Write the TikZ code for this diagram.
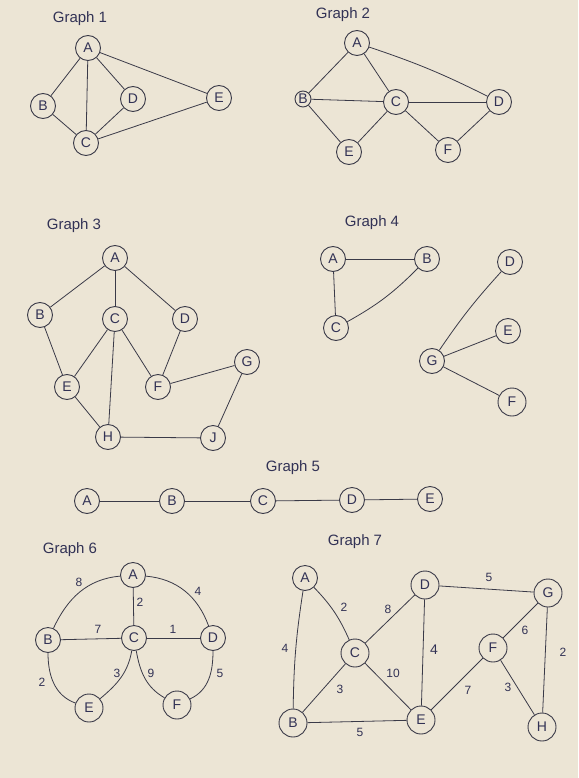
\documentclass[tikz,border=0pt]{standalone}
\usepackage{fontspec}
\setmainfont{Liberation Sans}
\definecolor{paper}{RGB}{236,229,213}
\definecolor{ink}{RGB}{58,58,72}
\definecolor{penblue}{RGB}{50,50,85}
\tikzset{
  vert/.style={circle,draw=ink,line width=0.9pt,minimum size=25pt,inner sep=0pt,text=penblue,font=\fontsize{14}{14}\selectfont},
  bigvert/.style={vert,minimum size=28pt},
  smallvert/.style={vert,minimum size=16pt},
  edge/.style={draw=ink,line width=0.8pt},
  ttl/.style={text=penblue,font=\fontsize{15}{15}\selectfont},
  wt/.style={text=penblue,font=\fontsize{12}{12}\selectfont,inner sep=1pt}
}
\begin{document}
\begin{tikzpicture}[x=1pt,y=-1pt]
\fill[paper] (0,0) rectangle (578,778);
\useasboundingbox (0,0) rectangle (578,778);

% ---------- Graph 1 ----------
\node[ttl] (t1) at (80,19) {Graph 1};
\node[vert] (g1A) at (88,48) {A};
\node[vert] (g1B) at (43,106) {B};
\node[vert] (g1C) at (86,143) {C};
\node[vert] (g1D) at (133,99) {D};
\node[vert] (g1E) at (219,98) {E};
\draw[edge] (g1A) -- (g1B);
\draw[edge] (g1A) -- (g1C);
\draw[edge] (g1A) -- (g1D);
\draw[edge] (g1A) -- (g1E);
\draw[edge] (g1B) -- (g1C);
\draw[edge] (g1C) -- (g1D);
\draw[edge] (g1C) -- (g1E);

% ---------- Graph 2 ----------
\node[ttl] (t2) at (343,15) {Graph 2};
\node[vert] (g2A) at (357,43) {A};
\node[smallvert] (g2B) at (303,99) {B};
\node[vert] (g2C) at (396,102) {C};
\node[vert] (g2D) at (499,102) {D};
\node[vert] (g2E) at (349,152) {E};
\node[vert] (g2F) at (448,150) {F};
\draw[edge] (g2A) -- (g2B);
\draw[edge] (g2A) -- (g2C);
\draw[edge] (g2A) to[bend left=4] (g2D);
\draw[edge] (g2B) -- (g2C);
\draw[edge] (g2C) -- (g2D);
\draw[edge] (g2B) -- (g2E);
\draw[edge] (g2E) -- (g2C);
\draw[edge] (g2C) -- (g2F);
\draw[edge] (g2F) -- (g2D);

% ---------- Graph 3 ----------
\node[ttl] (t3) at (74,226) {Graph 3};
\node[vert] (g3A) at (115,258) {A};
\node[vert] (g3B) at (40,315) {B};
\node[vert] (g3C) at (115,319) {C};
\node[vert] (g3D) at (185,319) {D};
\node[vert] (g3E) at (67,387) {E};
\node[vert] (g3F) at (158,387) {F};
\node[vert] (g3G) at (247,362) {G};
\node[vert] (g3H) at (108,437) {H};
\node[vert] (g3J) at (213,438) {J};
\draw[edge] (g3A) -- (g3B);
\draw[edge] (g3A) -- (g3C);
\draw[edge] (g3A) -- (g3D);
\draw[edge] (g3B) -- (g3E);
\draw[edge] (g3C) -- (g3E);
\draw[edge] (g3C) -- (g3H);
\draw[edge] (g3C) -- (g3F);
\draw[edge] (g3D) -- (g3F);
\draw[edge] (g3F) -- (g3G);
\draw[edge] (g3G) -- (g3J);
\draw[edge] (g3E) -- (g3H);
\draw[edge] (g3H) -- (g3J);

% ---------- Graph 4 ----------
\node[ttl] (t4) at (372,223) {Graph 4};
\node[vert] (g4A) at (333,259) {A};
\node[vert] (g4B) at (427,259) {B};
\node[vert] (g4C) at (336,328) {C};
\node[vert] (g4D) at (510,262) {D};
\node[vert] (g4E) at (508,331) {E};
\node[vert] (g4G) at (432,361) {G};
\node[bigvert] (g4F) at (512,402) {F};
\draw[edge] (g4A) -- (g4B);
\draw[edge] (g4A) -- (g4C);
\draw[edge] (g4B) to[bend left=8] (g4C);
\draw[edge] (g4D) to[bend right=4] (g4G);
\draw[edge] (g4E) -- (g4G);
\draw[edge] (g4G) -- (g4F);

% ---------- Graph 5 ----------
\node[ttl] (t5) at (293,468) {Graph 5};
\node[vert] (g5A) at (87,501) {A};
\node[vert] (g5B) at (172,501) {B};
\node[vert] (g5C) at (263,501) {C};
\node[vert] (g5D) at (352,500) {D};
\node[vert] (g5E) at (430,499) {E};
\draw[edge] (g5A) -- (g5B);
\draw[edge] (g5B) -- (g5C);
\draw[edge] (g5C) -- (g5D);
\draw[edge] (g5D) -- (g5E);

% ---------- Graph 6 ----------
\node[ttl] (t6) at (70,550) {Graph 6};
\node[vert] (g6A) at (133,575) {A};
\node[vert] (g6B) at (48,640) {B};
\node[vert] (g6C) at (134,638) {C};
\node[vert] (g6D) at (213,638) {D};
\node[bigvert] (g6E) at (89,708) {E};
\node[bigvert] (g6F) at (177,705) {F};
\draw[edge] (g6A) to[out=185,in=65] (g6B);
\draw[edge] (g6A) to[out=-5,in=110] (g6D);
\draw[edge] (g6A) -- (g6C);
\draw[edge] (g6B) -- (g6C);
\draw[edge] (g6C) -- (g6D);
\draw[edge] (g6B) to[out=-90,in=160] (g6E);
\draw[edge] (g6C) to[out=-100,in=40] (g6E);
\draw[edge] (g6C) to[out=-80,in=150] (g6F);
\draw[edge] (g6D) to[out=-90,in=25] (g6F);
\node[wt] (w6ab) at (79,582) {8};
\node[wt] (w6ad) at (198,591) {4};
\node[wt] (w6ac) at (140,602) {2};
\node[wt] (w6bc) at (98,629) {7};
\node[wt] (w6cd) at (173,629) {1};
\node[wt] (w6be) at (42,682) {2};
\node[wt] (w6ce) at (117,673) {3};
\node[wt] (w6cf) at (151,673) {9};
\node[wt] (w6df) at (220,673) {5};

% ---------- Graph 7 ----------
\node[ttl] (t7) at (355,542) {Graph 7};
\node[vert] (g7A) at (305,578) {A};
\node[bigvert] (g7D) at (425,585) {D};
\node[bigvert] (g7G) at (548,593) {G};
\node[bigvert] (g7C) at (355,653) {C};
\node[bigvert] (g7F) at (493,648) {F};
\node[bigvert] (g7B) at (293,723) {B};
\node[bigvert] (g7E) at (421,720) {E};
\node[bigvert] (g7H) at (542,727) {H};
\draw[edge] (g7A) to[bend left=10] (g7C);
\draw[edge] (g7A) to[bend right=4] (g7B);
\draw[edge] (g7C) -- (g7D);
\draw[edge] (g7C) -- (g7B);
\draw[edge] (g7C) -- (g7E);
\draw[edge] (g7D) -- (g7G);
\draw[edge] (g7D) -- (g7E);
\draw[edge] (g7G) -- (g7F);
\draw[edge] (g7G) -- (g7H);
\draw[edge] (g7F) -- (g7E);
\draw[edge] (g7F) -- (g7H);
\draw[edge] (g7B) -- (g7E);
\node[wt] (w7ac) at (344,607) {2};
\node[wt] (w7cd) at (388,609) {8};
\node[wt] (w7dg) at (489,577) {5};
\node[wt] (w7ab) at (285,648) {4};
\node[wt] (w7de) at (434,650) {\fontsize{14}{14}\selectfont 4};
\node[wt] (w7gf) at (525,630) {6};
\node[wt] (w7gh) at (563,652) {2};
\node[wt] (w7ce) at (393,673) {10};
\node[wt] (w7bc) at (340,689) {3};
\node[wt] (w7ef) at (468,690) {7};
\node[wt] (w7fh) at (508,687) {3};
\node[wt] (w7be) at (360,732) {5};
\end{tikzpicture}
\end{document}
